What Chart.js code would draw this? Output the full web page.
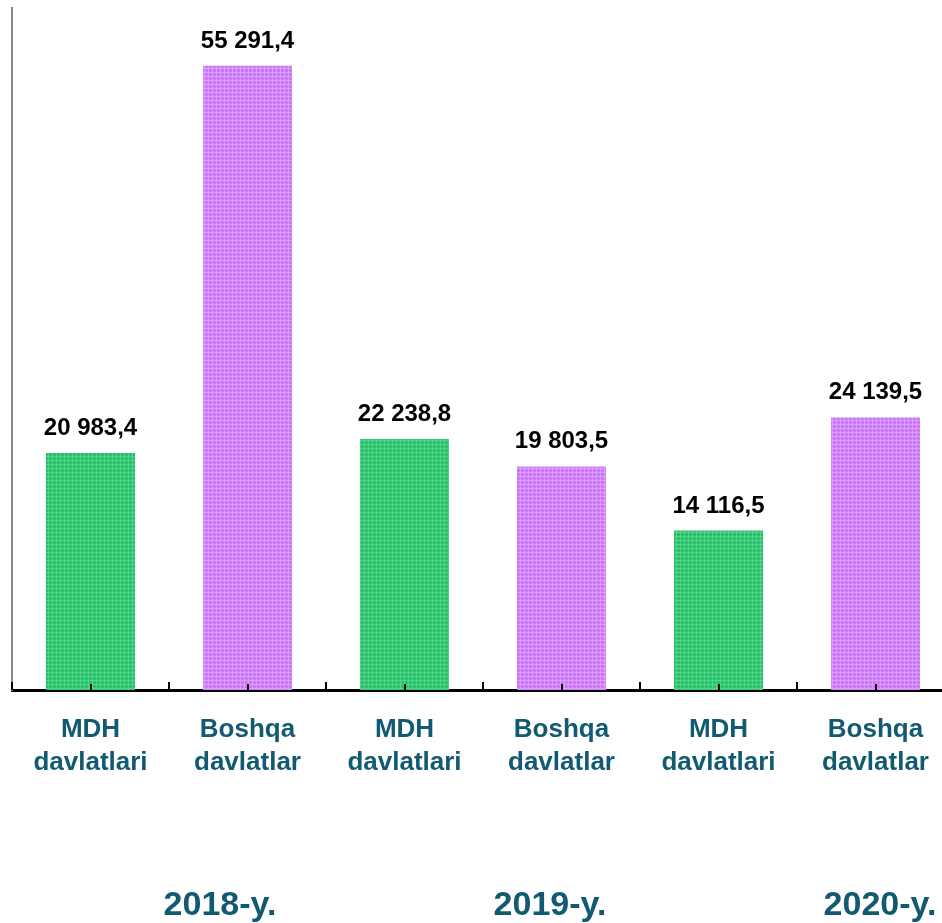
<!DOCTYPE html>
<html>
<head>
<meta charset="utf-8">
<script src="https://cdn.jsdelivr.net/npm/chart.js@4"></script>
<style>
  html, body { margin: 0; padding: 0; background: #fff; overflow: hidden; }
  #wrap { width: 960px; height: 923px; }
</style>
</head>
<body>
<div id="wrap"><canvas id="canvasOne"></canvas></div>
<script>
// categories and values
var labels = [
  ['MDH', 'davlatlari'], ['Boshqa', 'davlatlar'],
  ['MDH', 'davlatlari'], ['Boshqa', 'davlatlar'],
  ['MDH', 'davlatlari'], ['Boshqa', 'davlatlar']
];
var values = [20983.4, 55291.4, 22238.8, 19803.5, 14116.5, 24139.5];
var valueText = ['20 983,4', '55 291,4', '22 238,8', '19 803,5', '14 116,5', '24 139,5'];
var yearLabels = ['2018-y.', '2019-y.', '2020-y.'];

var teal = '#115a72';

function dotted(base, light, dark) {
    var c = document.createElement('canvas');
    c.width = 4; c.height = 4;
    var g = c.getContext('2d');
    g.fillStyle = base;
    g.fillRect(0, 0, 4, 4);
    g.fillStyle = light;
    g.fillRect(0, 0, 4, 1);
    g.fillRect(0, 0, 1, 4);
    g.fillStyle = dark;
    g.fillRect(2, 2, 1, 1);
    return g.createPattern(c, 'repeat');
}
var green = dotted('#2bc46c', '#4fd488', '#1fa858');
var purple = dotted('#cf7cfb', '#dc9cfd', '#b85ee8');

var extras = {
    id: 'extras',
    afterDraw: function(chart) {
        var ctx = chart.ctx;
        var area = chart.chartArea;
        var x = chart.scales.x;
        var n = labels.length;
        var w = (area.right - area.left) / n;
        ctx.save();
        // ticks pointing up from the axis
        ctx.strokeStyle = '#000';
        ctx.lineWidth = 2;
        for (var i = 0; i <= n; i++) {
            var bx = Math.round(area.left + i * w);
            ctx.beginPath();
            ctx.moveTo(bx, area.bottom);
            ctx.lineTo(bx, area.bottom - 8);
            ctx.stroke();
        }
        for (var j = 0; j < n; j++) {
            var cx = Math.round(x.getPixelForValue(j));
            ctx.beginPath();
            ctx.moveTo(cx, area.bottom);
            ctx.lineTo(cx, area.bottom - 6);
            ctx.stroke();
        }
        // value labels
        var meta = chart.getDatasetMeta(0);
        ctx.fillStyle = '#000';
        ctx.font = 'bold 24px "Liberation Sans", Arial, sans-serif';
        ctx.textAlign = 'center';
        ctx.textBaseline = 'alphabetic';
        meta.data.forEach(function(bar, k) {
            ctx.fillText(valueText[k], bar.x, bar.y - 18);
        });
        // year labels
        var yearX = [220, 550, 880];
        ctx.fillStyle = teal;
        ctx.font = 'bold 34px "Liberation Sans", Arial, sans-serif';
        ctx.textBaseline = 'middle';
        yearLabels.forEach(function(t, k) {
            ctx.fillText(t, yearX[k], 906);
        });
        ctx.restore();
    }
};

var ctx = document.getElementById('canvasOne').getContext('2d');
var config = {
    type: 'bar',
    data: {
        labels: labels,
        datasets: [{
            data: values,
            backgroundColor: [green, purple, green, purple, green, purple],
            categoryPercentage: 1,
            barPercentage: 0.567
        }]
    },
    options: {
        responsive: true,
        maintainAspectRatio: false,
        animation: false,
        layout: { padding: { top: 8, right: 6, left: 0, bottom: 0 } },
        plugins: { legend: { display: false }, tooltip: { enabled: false } },
        scales: {
            x: {
                grid: { display: false },
                border: { color: '#000', width: 3 },
                ticks: {
                    color: teal,
                    padding: 15,
                    maxRotation: 0,
                    autoSkip: false,
                    font: { family: '"Liberation Sans", Arial, sans-serif', size: 26, weight: 'bold', lineHeight: 1.27 }
                },
                afterFit: function(scale) { scale.height = 233; }
            },
            y: {
                min: 0,
                max: 60400,
                grid: { display: false },
                border: { color: '#888', width: 2 },
                ticks: { display: false },
                afterFit: function(scale) { scale.width = 12; }
            }
        }
    },
    plugins: [extras]
};
var chart = new Chart(ctx, config);
</script>
</body>
</html>
